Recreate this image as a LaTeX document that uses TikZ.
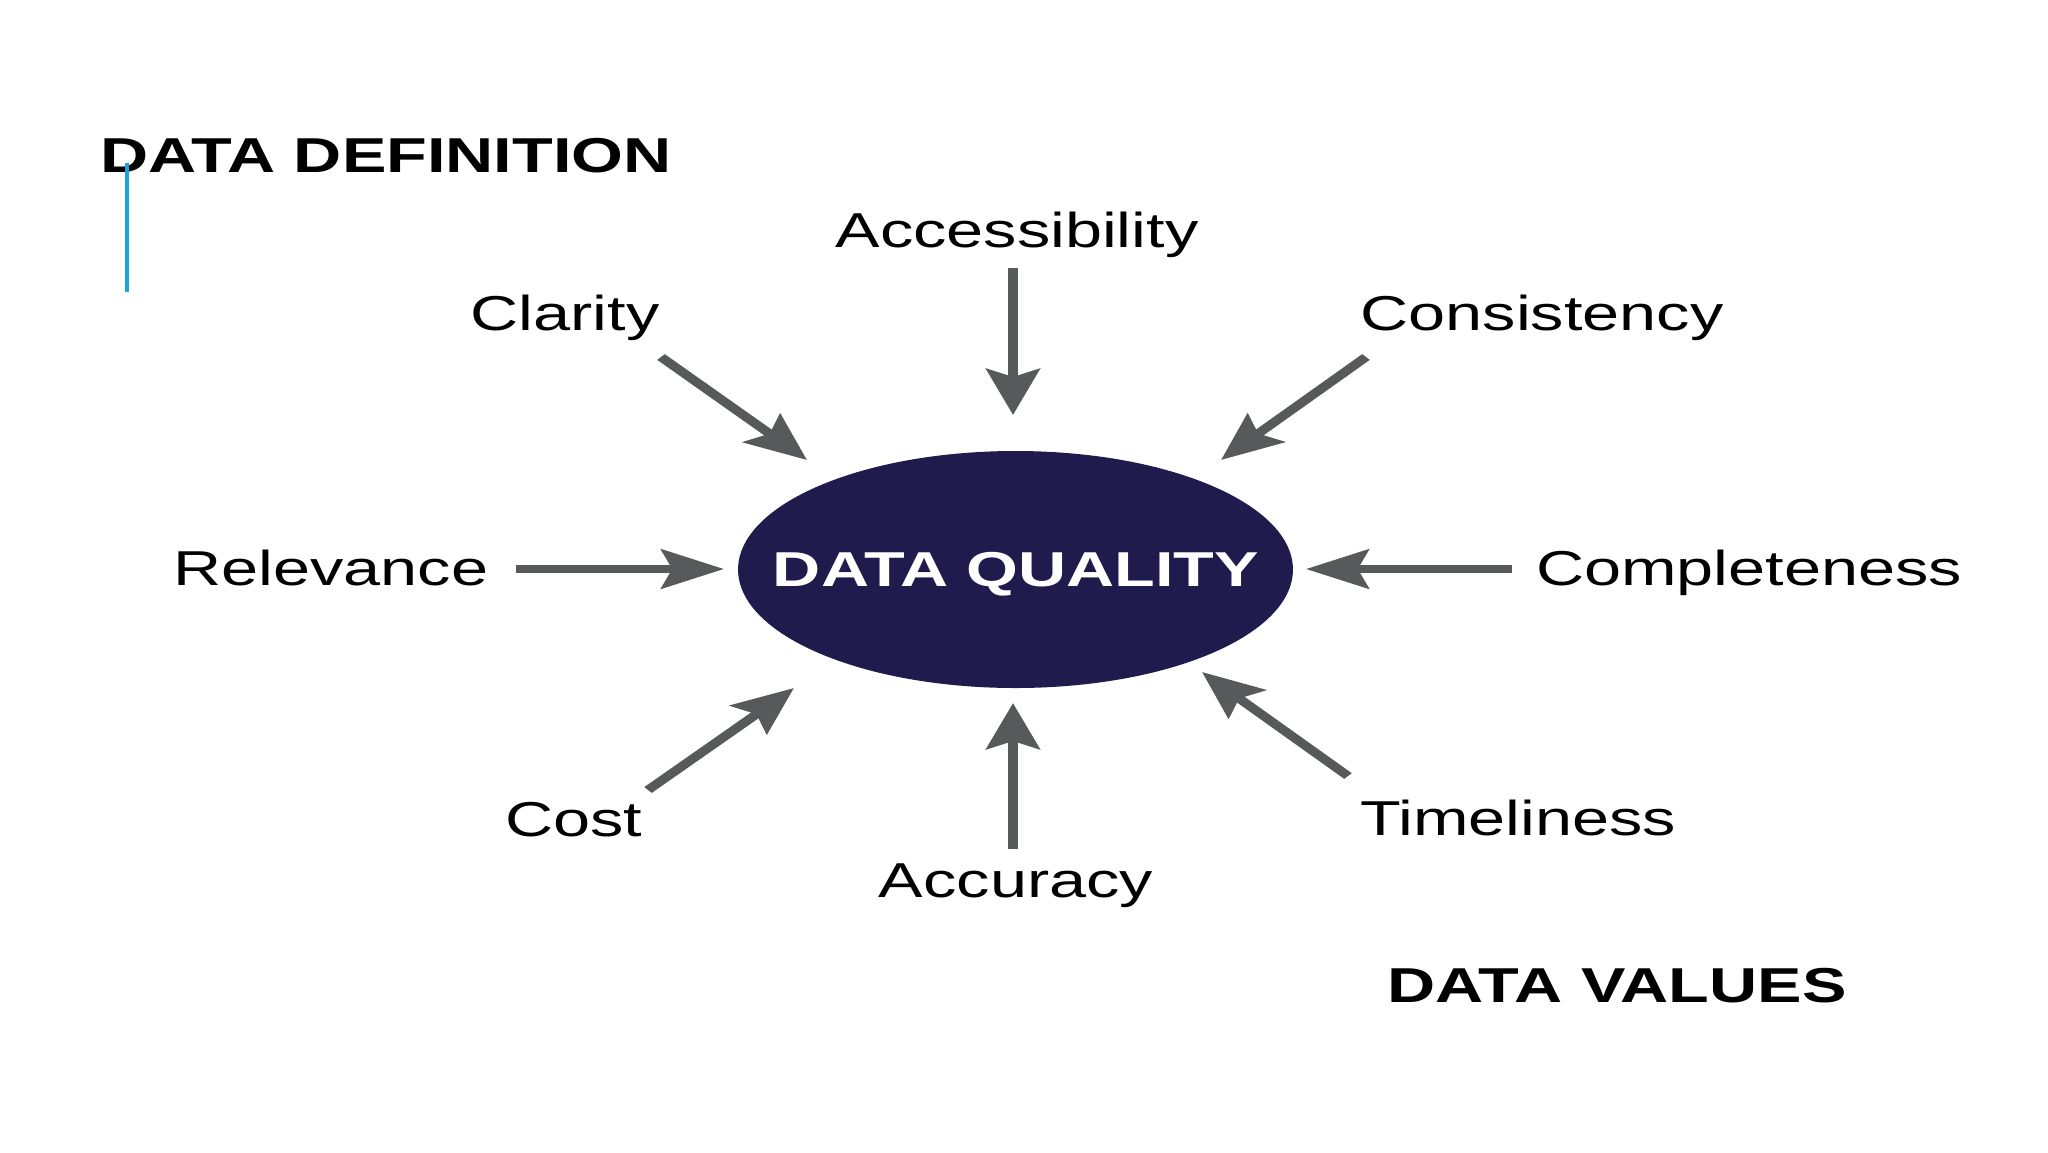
\documentclass[tikz,border=0pt]{standalone}
\usepackage{fontspec}
\setmainfont{Liberation Sans}
\usetikzlibrary{arrows.meta,shapes.geometric}
\definecolor{navy}{RGB}{31,27,77}
\definecolor{arrowgray}{RGB}{88,89,91}
\definecolor{accentblue}{RGB}{26,163,221}
\begin{document}
\begin{tikzpicture}[x=1pt,y=-1pt]
\fill[white] (0,0) rectangle (2048,1152);
\useasboundingbox (0,0) rectangle (2048,1152);
\begin{scope}[transform canvas={xscale=1.36}, x=0.73529pt, y=-1pt,
  lab/.style={font=\fontsize{49}{59}\selectfont, inner sep=0pt, anchor=base, text=black},
  headtxt/.style={font=\fontsize{49}{59}\selectfont\bfseries, inner sep=0pt, anchor=base},
  inarrow/.style={color=arrowgray, line width=8pt, -{Stealth[length=46pt,width=39pt,inset=8pt]}}]

% central ellipse
\node[ellipse, fill=navy, minimum width=408pt, minimum height=237pt, inner sep=0pt] (q) at (1015.5,569.5) {};
\node[headtxt, text=white] (qt) at (1016,586.5) {DATA QUALITY};

% headings
\node[headtxt, anchor=base west, text=black] (ddef) at (100,172) {DATA DEFINITION};
\node[headtxt, text=black] (dval) at (1617,1002) {DATA VALUES};

% labels
\node[lab] (acc) at (1017,247.5) {Accessibility};
\node[lab] (cla) at (565,330.5) {Clarity};
\node[lab] (con) at (1542,330.5) {Consistency};
\node[lab] (rel) at (331,585.5) {Relevance};
\node[lab] (com) at (1749,585.5) {Completeness};
\node[lab] (cos) at (574,836) {Cost};
\node[lab] (tim) at (1518,835.5) {Timeliness};
\node[lab] (acu) at (1016,897.5) {Accuracy};

% arrow end points
\coordinate (acc-s) at (1013,268);  \coordinate (acc-e) at (1013,415);
\coordinate (cla-s) at (661,357);   \coordinate (cla-e) at (807,460);
\coordinate (con-s) at (1366,357);  \coordinate (con-e) at (1221,460);
\coordinate (rel-s) at (516,569);   \coordinate (rel-e) at (724,569);
\coordinate (com-s) at (1512,569);  \coordinate (com-e) at (1306,569);
\coordinate (cos-s) at (648,790);   \coordinate (cos-e) at (794,688);
\coordinate (acu-s) at (1013,849);  \coordinate (acu-e) at (1013,703);
\coordinate (tim-s) at (1348,776);  \coordinate (tim-e) at (1202,672);

\draw[inarrow] (acc-s) -- (acc-e);
\draw[inarrow] (cla-s) -- (cla-e);
\draw[inarrow] (con-s) -- (con-e);
\draw[inarrow] (rel-s) -- (rel-e);
\draw[inarrow] (com-s) -- (com-e);
\draw[inarrow] (cos-s) -- (cos-e);
\draw[inarrow] (acu-s) -- (acu-e);
\draw[inarrow] (tim-s) -- (tim-e);

% accent line
\coordinate (bl-top) at (127,163);
\coordinate (bl-bot) at (127,292);
\draw[accentblue, line width=3pt] (bl-top) -- (bl-bot);
\end{scope}
\end{tikzpicture}
\end{document}
